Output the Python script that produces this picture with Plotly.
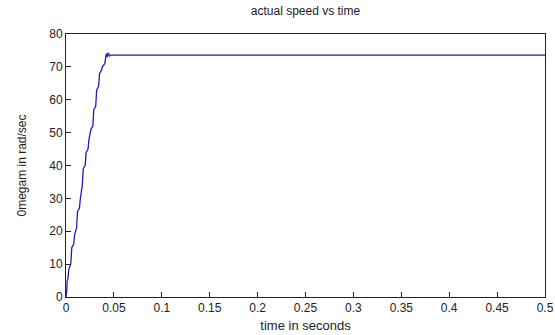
import plotly.graph_objects as go

time_s = [0, 0.0008, 0.0012, 0.002, 0.003, 0.004, 0.005, 0.006, 0.008, 0.009, 0.011,
          0.012, 0.014, 0.015, 0.017, 0.018, 0.020, 0.021, 0.023, 0.024, 0.026, 0.028,
          0.029, 0.031, 0.032, 0.034, 0.035, 0.037, 0.038, 0.0405, 0.042, 0.043, 0.044,
          0.0455, 0.047, 0.5]
speed = [0, 2, 5, 5.5, 8.5, 9.5, 10, 15, 16, 19, 21,
         26, 27, 30, 34, 39, 40, 44, 45, 48, 51, 52,
         57, 58, 63, 64, 68, 69, 70, 71, 74, 73, 74.3,
         73.3, 73.6, 73.6]

x_ticks = [0, 0.05, 0.1, 0.15, 0.2, 0.25, 0.3, 0.35, 0.4, 0.45, 0.5]
x_labels = ["0", "0.05", "0.1", "0.15", "0.2", "0.25", "0.3", "0.35", "0.4", "0.45", "0.5"]
y_ticks = [0, 10, 20, 30, 40, 50, 60, 70, 80]

fig = go.Figure(go.Scatter(x=time_s, y=speed, mode="lines",
                           line=dict(color="#1c1cb8", width=1.3), showlegend=False))

font = dict(family="Liberation Sans, Arial, sans-serif", size=12, color="#222222")
fig.update_layout(
    width=555, height=335,
    margin=dict(l=66, r=10, t=34, b=38),
    paper_bgcolor="white", plot_bgcolor="white",
    font=font,
    title=dict(text="actual speed vs time", x=0.5, xref="paper", xanchor="center",
               y=0.967, yanchor="middle", font=dict(size=12, color="#222222")),
    xaxis=dict(range=[0, 0.5], tickvals=x_ticks, ticktext=x_labels, automargin=False,
               showgrid=False, zeroline=False, showline=True, linecolor="#222222", linewidth=1,
               mirror=True, ticks="inside", ticklen=5, tickcolor="#222222",
               tickfont=dict(size=12),
               title=dict(text="time in seconds", standoff=6, font=dict(size=13))),
    yaxis=dict(range=[0, 80], tickvals=y_ticks, automargin=False,
               showgrid=False, zeroline=False, showline=True, linecolor="#222222", linewidth=1,
               mirror=True, ticks="inside", ticklen=5, tickcolor="#222222",
               tickfont=dict(size=12),
               title=dict(text="0megam in rad/sec", standoff=20, font=dict(size=12))),
)
fig.write_html("out.html", config={"displayModeBar": False},
               post_script="document.body.style.margin='0';")
